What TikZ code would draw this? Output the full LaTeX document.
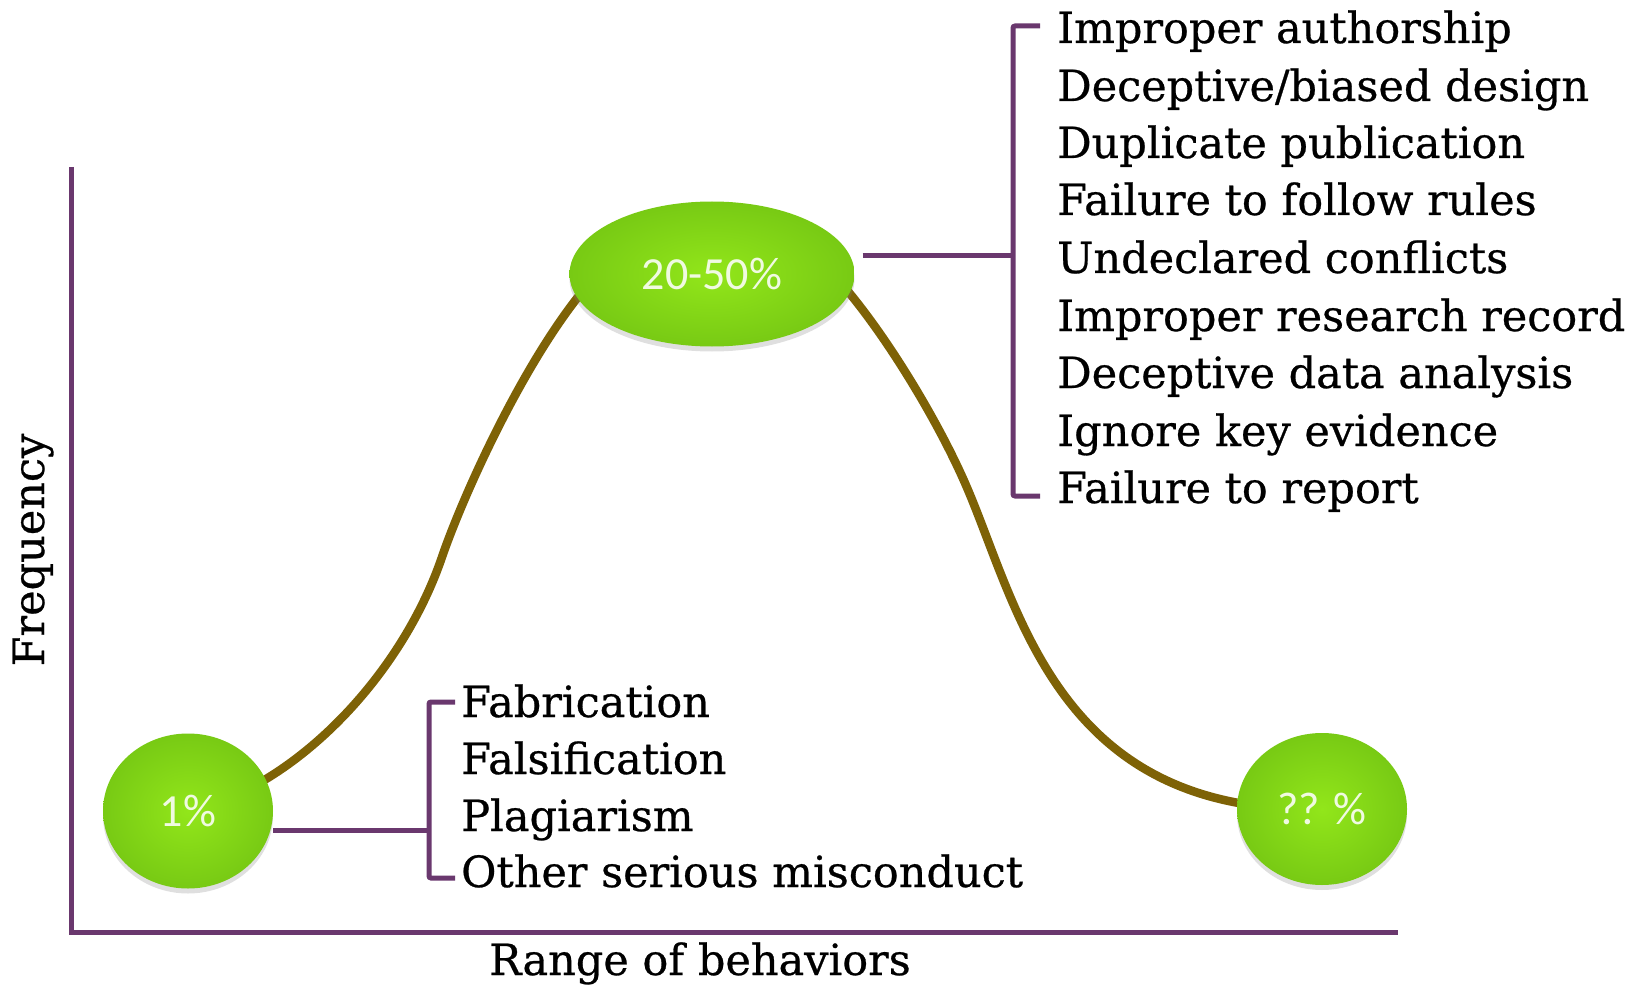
\documentclass[tikz,border=0pt]{standalone}
\usepackage{fontspec}
\setmainfont{DejaVu Serif}
\newfontfamily\slabfont{DejaVu Serif}[FakeBold=0.6]
\newfontfamily\pctfont{Carlito}
\usetikzlibrary{shapes.geometric,shadows,backgrounds}
\definecolor{axpurple}{RGB}{106,56,110}
\definecolor{curvebrown}{RGB}{126,98,6}
\definecolor{gin}{RGB}{146,230,26}
\definecolor{gout}{RGB}{120,202,20}
\definecolor{pcttext}{RGB}{240,250,225}
\begin{document}
\begin{tikzpicture}[x=1pt,y=-1pt,
  bubble/.style={ellipse, inner sep=0pt, inner color=gin, outer color=gout,
    drop shadow={opacity=0.25, shadow xshift=0pt, shadow yshift=-5pt},
    text=pcttext, font=\pctfont\fontsize{46}{46}\selectfont},
  item/.style={anchor=base west, inner sep=0pt, font=\slabfont\fontsize{43}{50}\selectfont},
  label/.style={anchor=base, inner sep=0pt, font=\slabfont\fontsize{43}{50}\selectfont},
  conn/.style={draw=axpurple, line width=5pt},
  axisline/.style={draw=axpurple, line width=5pt},
  curveline/.style={draw=curvebrown, line width=8.5pt}]
\useasboundingbox (0,0) rectangle (1649,992);

% axes
\coordinate (ytop) at (71,167);
\coordinate (orig) at (71,932);
\coordinate (xend) at (1398,932);
\draw[axisline] (ytop) -- (orig) -- (xend);
\node[label, rotate=90] (freq) at (44,550) {Frequency};
\node[label] (range) at (700,975) {Range of behaviors};

% bubbles
\node[bubble, minimum width=170pt, minimum height=155pt] (p1) at (188,811) {1\%};
\node[bubble, minimum width=285pt, minimum height=145pt] (p2) at (712,274) {20-50\%};
\node[bubble, minimum width=170pt, minimum height=152pt] (p3) at (1322,809) {?? \%};

% curve behind bubbles
\begin{pgfonlayer}{background}
\draw[curveline] (p1.center) .. controls (290,790) and (400,680) .. (442,557)
  .. controls (468,481) and (560,280) .. (640,240) -- (p2.center) -- (790,240)
  .. controls (840,260) and (930,400) .. (968,490)
  .. controls (1020,613) and (1060,815) .. (p3.center);
\end{pgfonlayer}

% left bracket
\coordinate (lb) at (429,830);
\coordinate (ltop) at (455,702);
\coordinate (lbot) at (455,878);
\draw[conn] (p1.east |- lb) -- (lb);
\draw[conn, rounded corners=2pt] (ltop) -| (lb) |- (lbot);
\node[item] (f1) at (461,717) {Fabrication};
\node[item] (f2) at (461,774) {Falsification};
\node[item] (f3) at (461,831) {Plagiarism};
\node[item] (f4) at (461,887) {Other serious misconduct};

% right bracket
\coordinate (rb) at (1013,256);
\coordinate (rtop) at (1040,26);
\coordinate (rbot) at (1040,496);
\draw[conn, shorten <=8pt] (p2.east |- rb) -- (rb);
\draw[conn, rounded corners=2pt] (rtop) -| (rb) |- (rbot);
\node[item] (q1) at (1057,43) {Improper authorship};
\node[item] (q2) at (1057,101) {Deceptive/biased design};
\node[item] (q3) at (1057,158) {Duplicate publication};
\node[item] (q4) at (1057,215) {Failure to follow rules};
\node[item] (q5) at (1057,273) {Undeclared conflicts};
\node[item] (q6) at (1057,331) {Improper research record};
\node[item] (q7) at (1057,388) {Deceptive data analysis};
\node[item] (q8) at (1057,446) {Ignore key evidence};
\node[item] (q9) at (1057,503) {Failure to report};
\end{tikzpicture}
\end{document}
